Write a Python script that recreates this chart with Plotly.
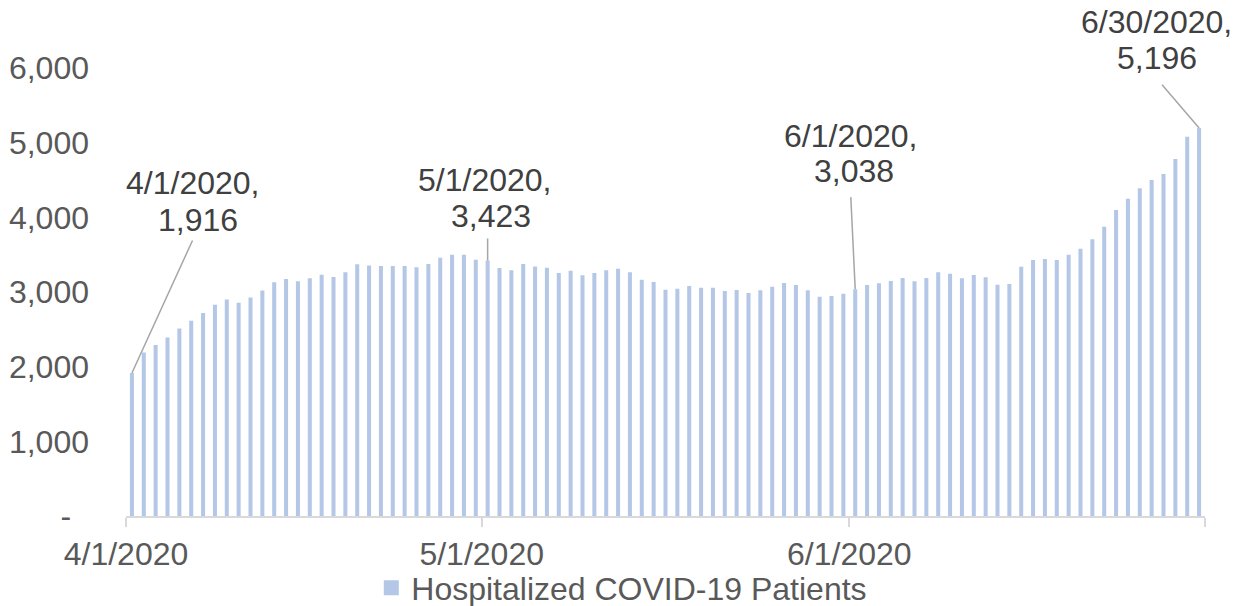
import pandas as pd
import plotly.graph_objects as go

# daily hospitalized COVID-19 patients, 4/1/2020 - 6/30/2020
dates = pd.date_range("2020-04-01", "2020-06-30", freq="D")
patients = [
    1916, 2190, 2290, 2390, 2510, 2615, 2720, 2830, 2900, 2855,
    2925, 3020, 3130, 3175, 3145, 3185, 3230, 3200, 3265, 3370,
    3355, 3348, 3348, 3348, 3330, 3375, 3460, 3500, 3500, 3433,
    3423, 3320, 3290, 3375, 3340, 3325, 3255, 3285, 3225, 3255,
    3290, 3310, 3265, 3163, 3134, 3031, 3045, 3080, 3058, 3058,
    3013, 3027, 2987, 3022, 3071, 3120, 3094, 3022, 2937, 2946,
    2977, 3038, 3094, 3116, 3147, 3187, 3143, 3187, 3264, 3245,
    3183, 3228, 3196, 3098, 3107, 3339, 3428, 3442, 3428, 3500,
    3580, 3705, 3875, 4098, 4250, 4388, 4500, 4580, 4781, 5080,
    5196,
]

series_name = "Hospitalized COVID-19 Patients"
label_dates = ["2020-04-01", "2020-05-01", "2020-06-01", "2020-06-30"]

y_ticks = [0, 1000, 2000, 3000, 4000, 5000, 6000]
y_ticktext = ["-\u00a0\u00a0", "1,000", "2,000", "3,000", "4,000", "5,000", "6,000"]
x_tickvals = ["2020-03-31 12:00", "2020-04-30 12:00", "2020-05-31 12:00", "2020-06-30 12:00"]
x_ticktext = ["4/1/2020", "5/1/2020", "6/1/2020", ""]

FONT = "Arial, Liberation Sans, sans-serif"
BAR = "#B4C7E7"
GREY = "#595959"
LABEL = "#404040"
LEADER = "#A6A6A6"
AXIS = "#D9D9D9"

fig = go.Figure()
fig.add_trace(go.Bar(
    x=dates, y=patients, name=series_name,
    marker=dict(color=BAR, line=dict(width=0)),
    showlegend=False,
))
# legend entry with a square swatch like the original
fig.add_trace(go.Scatter(
    x=[None], y=[None], mode="markers", name=series_name,
    marker=dict(symbol="square", size=15, color=BAR),
    showlegend=True,
))

# label offsets in px: (line1 dx, line1 dy, line2 dx, line2 dy, leader ax, leader ay)
offsets = [
    (61, 190, 66, 153, 61.5, -134.5),
    (-3, 80, 3, 44, 0, -24),
    (-5, 153, -1, 118, -4.5, -94),
    (-43, 106, -42, 70, -38.5, -45),
]

annotations = []
for d, off in zip(label_dates, offsets):
    i = list(dates).index(pd.Timestamp(d))
    v = patients[i]
    ts = pd.Timestamp(d)
    line1 = f"{ts.month}/{ts.day}/{ts.year},"
    line2 = f"{v:,}"
    annotations.append(dict(x=ts, y=v, text=line1, showarrow=False,
                            xshift=off[0], yshift=off[1],
                            font=dict(family=FONT, size=32, color=LABEL)))
    annotations.append(dict(x=ts, y=v, text=line2, showarrow=False,
                            xshift=off[2], yshift=off[3],
                            font=dict(family=FONT, size=32, color=LABEL)))
    annotations.append(dict(x=ts, y=v, text=" ", showarrow=True,
                            ax=off[4], ay=off[5], arrowhead=0, arrowwidth=1.5,
                            arrowcolor=LEADER, standoff=0, startstandoff=0,
                            font=dict(size=1)))

# page body has an 8px margin, so the figure is sized/offset to fit the window
fig.update_layout(
    width=1235, height=598,
    margin=dict(l=118, r=38, t=60, b=90, autoexpand=False),
    plot_bgcolor="white", paper_bgcolor="white",
    bargap=0.66,
    font=dict(family=FONT, size=32, color=GREY),
    annotations=annotations,
    legend=dict(orientation="h", xref="container", yref="container",
                x=0.497, y=0.03, xanchor="center", yanchor="middle",
                bgcolor="rgba(0,0,0,0)",
                font=dict(family=FONT, size=32, color=GREY)),
    xaxis=dict(
        type="date", automargin=False,
        range=["2020-03-31 12:00", "2020-06-30 12:00"],
        tickvals=x_tickvals, ticktext=x_ticktext,
        ticks="outside", ticklen=9, tickwidth=1.5, tickcolor=AXIS,
        showline=True, linecolor=AXIS, linewidth=1.5,
        showgrid=False, zeroline=False,
        tickfont=dict(family=FONT, size=32, color=GREY),
    ),
    yaxis=dict(
        range=[0, 6000], automargin=False,
        tickvals=y_ticks, ticktext=y_ticktext,
        showgrid=False, zeroline=False, showline=False,
        ticks="", ticklabelstandoff=36,
        tickfont=dict(family=FONT, size=32, color=GREY),
    ),
)

fig.write_html("out.html")
